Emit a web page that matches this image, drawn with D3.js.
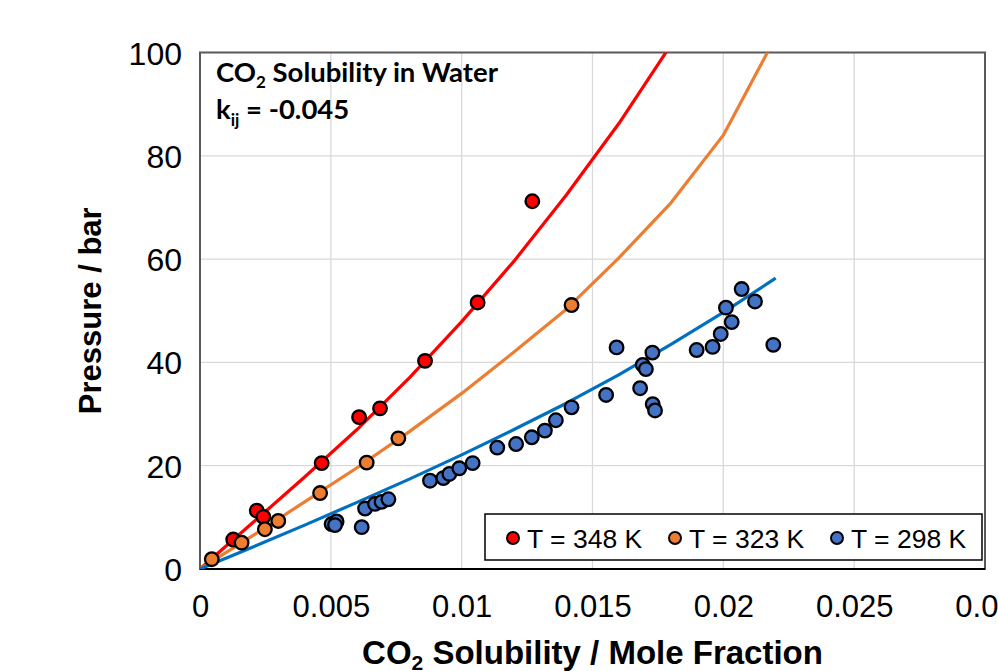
<!DOCTYPE html>
<html>
<head>
<meta charset="utf-8">
<script src="https://cdn.jsdelivr.net/npm/d3@7"></script>
<style>
  html, body { margin: 0; padding: 0; background: #ffffff; }
  svg { display: block; }
</style>
</head>
<body>
<svg id="chart" width="998" height="671"></svg>
<script>
// Experimental CO2 solubility (mole fraction) vs pressure (bar)
const seriesNames = ["T = 348 K", "T = 323 K", "T = 298 K"];
const markerColors = ["#FF0000", "#ED7D31", "#4472C4"];
const lineColors = ["#FF0000", "#ED7D31", "#0070C0"];

const x348 = [0.00127, 0.00217, 0.00242, 0.00465, 0.00608, 0.00688, 0.0086, 0.01061, 0.0127];
const p348 = [5.7, 11.3, 10.1, 20.5, 29.4, 31.1, 40.3, 51.6, 71.2];

const x323 = [0.00045, 0.00159, 0.00248, 0.00299, 0.00459, 0.00637, 0.00758, 0.0142];
const p323 = [1.9, 5.1, 7.7, 9.3, 14.7, 20.6, 25.3, 51.1];

const x298 = [0.00503, 0.00522, 0.00516, 0.00618, 0.00631, 0.00669, 0.00694, 0.0072,
              0.00879, 0.0093, 0.00953, 0.00991, 0.01042, 0.01136, 0.01208, 0.01268,
              0.01318, 0.0136, 0.0142, 0.01552, 0.01592, 0.01682, 0.01692, 0.01704,
              0.01729, 0.0173, 0.01739, 0.01898, 0.01959, 0.0199, 0.02032, 0.0201,
              0.0207, 0.02121, 0.02191];
const p298 = [8.7, 9.2, 8.5, 8.1, 11.7, 12.6, 13.0, 13.5,
              17.1, 17.6, 18.4, 19.5, 20.5, 23.5, 24.2, 25.5,
              26.8, 28.8, 31.3, 33.7, 42.9, 35.0, 39.5, 38.7,
              41.9, 31.9, 30.7, 42.4, 43.0, 45.5, 47.8, 50.6,
              54.2, 51.8, 43.4];

// Equation-of-state model curves (kij = -0.045)
const xModel = [0, 0.002, 0.004, 0.006, 0.008, 0.010, 0.012, 0.014, 0.016, 0.018, 0.020, 0.022];
const pModel348 = [0, 8.9, 17.8, 27.0, 37.0, 47.9, 59.6, 72.4, 86.2, 101.5];
const pModel323 = [0, 6.4, 13.0, 19.6, 26.6, 34.0, 42.0, 50.3, 60.2, 70.9, 84.0, 103.0];
const pModel298 = [0, 4.2, 8.5, 12.9, 17.4, 22.1, 27.0, 32.1, 37.6, 43.5, 49.7, 56.3];

const xTicks = [0, 0.005, 0.01, 0.015, 0.02, 0.025, 0.03];
const xTickLabels = ["0", "0.005", "0.01", "0.015", "0.02", "0.025", "0.03"];
const yTicks = [0, 20, 40, 60, 80, 100];

const points = [
  x348.map((v, i) => [v, p348[i]]),
  x323.map((v, i) => [v, p323[i]]),
  x298.map((v, i) => [v, p298[i]])
];
const curves = [
  pModel348.map((p, i) => [xModel[i], p]),
  pModel323.map((p, i) => [xModel[i], p]),
  pModel298.map((p, i) => [xModel[i], p])
];

const svg = d3.select("#chart");
const plot = { left: 200, right: 985, top: 52.5, bottom: 569 };

const x = d3.scaleLinear().domain([0, 0.03]).range([plot.left, plot.right]);
const y = d3.scaleLinear().domain([0, 100]).range([plot.bottom, plot.top]);

const tickFont = "'Liberation Sans', Arial, sans-serif";

// gridlines
svg.append("g")
  .selectAll("line.vgrid")
  .data(xTicks.slice(1, -1))
  .join("line")
  .attr("x1", d => x(d)).attr("x2", d => x(d))
  .attr("y1", plot.top).attr("y2", plot.bottom)
  .attr("stroke", "#D9D9D9").attr("stroke-width", 1.3);
svg.append("g")
  .selectAll("line.hgrid")
  .data(yTicks.slice(1, -1))
  .join("line")
  .attr("x1", plot.left).attr("x2", plot.right)
  .attr("y1", d => y(d)).attr("y2", d => y(d))
  .attr("stroke", "#D9D9D9").attr("stroke-width", 1.3);

// axes (labels only, no tick marks)
const xAxis = svg.append("g")
  .attr("transform", `translate(0,${plot.bottom})`)
  .call(d3.axisBottom(x).tickValues(xTicks).tickSize(0).tickPadding(0)
    .tickFormat((d, i) => xTickLabels[i]));
xAxis.select(".domain").remove();
xAxis.selectAll("text")
  .attr("y", 48)
  .attr("dy", 0)
  .style("font-family", tickFont)
  .style("font-size", "31px")
  .attr("fill", "#000");

const yAxis = svg.append("g")
  .attr("transform", `translate(${plot.left},0)`)
  .call(d3.axisLeft(y).tickValues(yTicks).tickSize(0).tickPadding(18));
yAxis.select(".domain").remove();
yAxis.selectAll("text")
  .attr("dy", "0.36em")
  .style("font-family", tickFont)
  .style("font-size", "32px")
  .attr("fill", "#000");

// plot frame
svg.append("rect")
  .attr("x", plot.left).attr("y", plot.top)
  .attr("width", plot.right - plot.left).attr("height", plot.bottom - plot.top)
  .attr("fill", "none").attr("stroke", "#595959").attr("stroke-width", 2);
svg.append("line")
  .attr("x1", plot.left).attr("x2", plot.right)
  .attr("y1", plot.bottom).attr("y2", plot.bottom)
  .attr("stroke", "#000").attr("stroke-width", 2);

// clip for model curves
svg.append("clipPath").attr("id", "plotClip")
  .append("rect")
  .attr("x", plot.left).attr("y", plot.top)
  .attr("width", plot.right - plot.left).attr("height", plot.bottom - plot.top);

const line = d3.line().x(d => x(d[0])).y(d => y(d[1]));
svg.append("g").attr("clip-path", "url(#plotClip)")
  .selectAll("path")
  .data(curves)
  .join("path")
  .attr("d", line)
  .attr("fill", "none")
  .attr("stroke", (d, i) => lineColors[i])
  .attr("stroke-width", 3.2)
  .attr("stroke-linejoin", "round");

// data markers
points.forEach((pts, i) => {
  svg.append("g")
    .selectAll("circle")
    .data(pts)
    .join("circle")
    .attr("cx", d => x(d[0]))
    .attr("cy", d => y(d[1]))
    .attr("r", 6.8)
    .attr("fill", markerColors[i])
    .attr("stroke", "#000")
    .attr("stroke-width", 2.3);
});

// axis titles
const xTitle = svg.append("text")
  .attr("x", (plot.left + plot.right) / 2)
  .attr("y", 664)
  .attr("text-anchor", "middle")
  .style("font-family", tickFont)
  .style("font-weight", "bold")
  .style("font-size", "33px");
xTitle.append("tspan").text("CO");
xTitle.append("tspan").attr("dy", 6).style("font-size", "21px").text("2");
xTitle.append("tspan").attr("dy", -6).text(" Solubility / Mole Fraction");

svg.append("text")
  .attr("transform", `translate(101,${(plot.top + plot.bottom) / 2}) rotate(-90)`)
  .attr("text-anchor", "middle")
  .style("font-family", tickFont)
  .style("font-weight", "bold")
  .style("font-size", "31px")
  .text("Pressure / bar");

// annotation
const noteFont = "Lato, 'Open Sans', sans-serif";
const note1 = svg.append("text")
  .attr("x", 216).attr("y", 82)
  .style("font-family", noteFont)
  .style("font-weight", "bold")
  .style("font-size", "27.5px");
note1.append("tspan").text("CO");
note1.append("tspan").attr("dy", 6).style("font-size", "17px").text("2");
note1.append("tspan").attr("dy", -6).text(" Solubility in Water");

const note2 = svg.append("text")
  .attr("x", 216).attr("y", 119)
  .style("font-family", noteFont)
  .style("font-weight", "bold")
  .style("font-size", "27.5px");
note2.append("tspan").text("k");
note2.append("tspan").attr("dy", 7).style("font-size", "17px").text("ij");
note2.append("tspan").attr("dy", -7).text(" = -0.045");

// legend
const legend = svg.append("g");
legend.append("rect")
  .attr("x", 485).attr("y", 514)
  .attr("width", 497).attr("height", 46)
  .attr("fill", "#fff").attr("stroke", "#000").attr("stroke-width", 1.5);
const legendX = [513, 675, 837];
seriesNames.forEach((name, i) => {
  legend.append("circle")
    .attr("cx", legendX[i]).attr("cy", 538)
    .attr("r", 6)
    .attr("fill", markerColors[i])
    .attr("stroke", "#000").attr("stroke-width", 2);
  legend.append("text")
    .attr("x", legendX[i] + 14).attr("y", 547.5)
    .style("font-family", tickFont)
    .style("font-size", "26.5px")
    .text(name);
});
</script>
</body>
</html>
